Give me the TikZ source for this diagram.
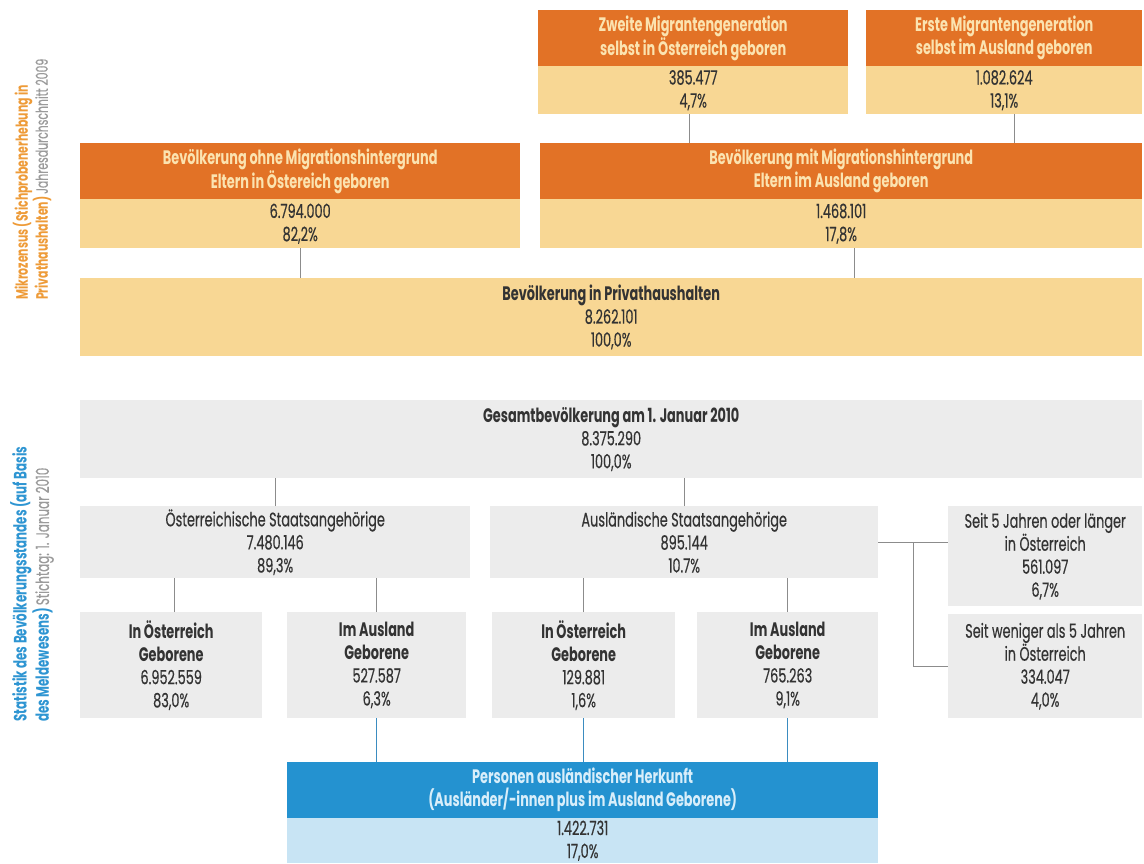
\documentclass[tikz,border=0pt]{standalone}
\usepackage{fontspec}
\setmainfont{Poppins}[FakeStretch=0.66, UprightFeatures={FakeBold=0.4}]
\definecolor{ohead}{HTML}{E27226}
\definecolor{ohtxt}{HTML}{FBE3B0}
\definecolor{obody}{HTML}{F8D794}
\definecolor{gbg}{HTML}{ECECEC}
\definecolor{txt}{HTML}{333333}
\definecolor{bhead}{HTML}{2492D0}
\definecolor{bhtxt}{HTML}{D8EEFA}
\definecolor{bbody}{HTML}{C8E4F4}
\definecolor{lc}{HTML}{8C8C8C}
\definecolor{blc}{HTML}{3B8CC0}
\definecolor{olabel}{HTML}{EE9B38}
\definecolor{glabel}{HTML}{9A9A9A}
\definecolor{blabel}{HTML}{2E95D2}
\newcommand\fs{\fontsize{19.5}{23}\selectfont}
\newcommand\lfsa{\fontsize{16.5}{20}\selectfont}
\newcommand\lfsb{\fontsize{18}{20}\selectfont}
\begin{document}
\begin{tikzpicture}[x=1pt,y=-1pt,
  box/.style={anchor=north west, inner sep=0pt, align=center, text=txt, font=\fs},
  ohdr/.style={box, fill=ohead, text=ohtxt, font=\fs\bfseries},
  obox/.style={box, fill=obody},
  gbox/.style={box, fill=gbg},
  bhdr/.style={box, fill=bhead, text=bhtxt, font=\fs\bfseries},
  bbox/.style={box, fill=bbody},
  conn/.style={draw=lc, line width=1pt},
  bconn/.style={draw=blc, line width=1.2pt},
  sidelabel/.style={rotate=90, anchor=west, align=left, inner sep=0pt}]
\useasboundingbox (0,0) rectangle (1144,863);
\fill[white] (0,0) rectangle (1144,863);

% side labels
\node[sidelabel, font=\lfsa] (lab1) at (32,300) {\textcolor{olabel}{\bfseries Mikrozensus (Stichprobenerhebung in}\\\textcolor{olabel}{\bfseries Privathaushalten)} \textcolor{glabel}{Jahresdurchschnitt 2009}};
\node[sidelabel, font=\lfsb] (lab2) at (32,722) {\textcolor{blabel}{\bfseries Statistik des Bevölkerungsstandes (auf Basis}\\\textcolor{blabel}{\bfseries des Meldewesens)} \textcolor{glabel}{Stichtag: 1. Januar 2010}};

% Mikrozensus part
\node[ohdr, minimum width=310pt, minimum height=56pt] (zh) at (538,10) {Zweite Migrantengeneration\\selbst in Österreich geboren};
\node[obox, minimum width=310pt, minimum height=48pt] (zb) at (538,66) {385.477\\4,7\%};
\node[ohdr, minimum width=276pt, minimum height=56pt] (eh) at (866,10) {Erste Migrantengeneration\\selbst im Ausland geboren};
\node[obox, minimum width=276pt, minimum height=48pt] (eb) at (866,66) {1.082.624\\13,1\%};

\node[ohdr, minimum width=440pt, minimum height=56pt] (ohneh) at (80,143) {Bevölkerung ohne Migrationshintergrund\\Eltern in Östereich geboren};
\node[obox, minimum width=440pt, minimum height=49pt] (ohneb) at (80,199) {6.794.000\\82,2\%};
\node[ohdr, minimum width=602pt, minimum height=56pt] (mith) at (540,143) {Bevölkerung mit Migrationshintergrund\\Eltern im Ausland geboren};
\node[obox, minimum width=602pt, minimum height=49pt] (mitb) at (540,199) {1.468.101\\17,8\%};

\node[obox, minimum width=1062pt, minimum height=78pt] (priv) at (80,278) {\textbf{Bevölkerung in Privathaushalten}\\8.262.101\\100,0\%};

\draw[conn] ([xshift=-4pt]zb.south) -- ([xshift=-4pt]zb.south |- mith.north);
\draw[conn] ([xshift=10pt]eb.south) -- ([xshift=10pt]eb.south |- mith.north);
\draw[conn] (ohneb.south) -- (ohneb.south |- priv.north);
\draw[conn] ([xshift=13pt]mitb.south) -- ([xshift=13pt]mitb.south |- priv.north);

% Statistik part
\node[gbox, minimum width=1062pt, minimum height=78pt] (ges) at (80,400) {\textbf{Gesamtbevölkerung am 1. Januar 2010}\\8.375.290\\100,0\%};
\node[gbox, minimum width=390pt, minimum height=72pt] (ost) at (80,506) {Österreichische Staatsangehörige\\7.480.146\\89,3\%};
\node[gbox, minimum width=388pt, minimum height=72pt] (aus) at (490,506) {Ausländische Staatsangehörige\\895.144\\10.7\%};
\node[gbox, minimum width=194pt, minimum height=100pt] (s5) at (948,506) {Seit 5 Jahren oder länger\\in Österreich\\561.097\\6,7\%};
\node[gbox, minimum width=194pt, minimum height=104pt] (sw) at (948,614) {Seit weniger als 5 Jahren\\in Österreich\\334.047\\4,0\%};

\node[gbox, minimum width=182pt, minimum height=106pt] (r1) at (80,612) {\textbf{In Österreich}\\\textbf{Geborene}\\6.952.559\\83,0\%};
\node[gbox, minimum width=179pt, minimum height=106pt] (r2) at (287,612) {\textbf{Im Ausland}\\\textbf{Geborene}\\527.587\\6,3\%};
\node[gbox, minimum width=183pt, minimum height=106pt] (r3) at (492,612) {\textbf{In Österreich}\\\textbf{Geborene}\\129.881\\1,6\%};
\node[gbox, minimum width=181pt, minimum height=106pt] (r4) at (697,612) {\textbf{Im Ausland}\\\textbf{Geborene}\\765.263\\9,1\%};

\draw[conn] (ost.north) -- (ost.north |- ges.south);
\draw[conn] (aus.north) -- (aus.north |- ges.south);
\draw[conn] ([xshift=3pt]r1.north) -- ([xshift=3pt]r1.north |- ost.south);
\draw[conn] (r2.north) -- (r2.north |- ost.south);
\draw[conn] (r3.north) -- (r3.north |- aus.south);
\draw[conn] (r4.north) -- (r4.north |- aus.south);
\draw[conn] (aus.east) -- (s5.west |- aus.east);
\draw[conn] ([xshift=35pt]aus.east) |- (sw.west);

% Herkunft
\node[bhdr, minimum width=591pt, minimum height=56pt] (ph) at (287,762) {Personen ausländischer Herkunft\\(Ausländer/-innen plus im Ausland Geborene)};
\node[bbox, minimum width=591pt, minimum height=45pt] (pb) at (287,818) {1.422.731\\17,0\%};

\draw[bconn] (r2.south) -- (r2.south |- ph.north);
\draw[bconn] (r3.south) -- (r3.south |- ph.north);
\draw[bconn] (r4.south) -- (r4.south |- ph.north);
\end{tikzpicture}
\end{document}
